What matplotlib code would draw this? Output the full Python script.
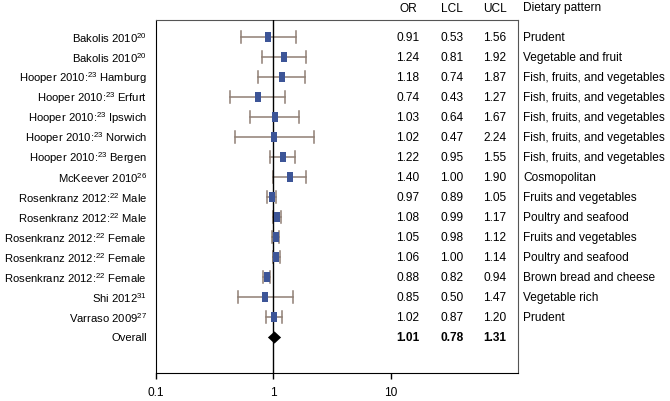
import matplotlib
matplotlib.use('Agg')
from matplotlib import pyplot as plt
from matplotlib.transforms import blended_transform_factory

# dados do forest plot
estudos = ['Bakolis 2010$^{20}$', 'Bakolis 2010$^{20}$',
           'Hooper 2010:$^{23}$ Hamburg', 'Hooper 2010:$^{23}$ Erfurt',
           'Hooper 2010:$^{23}$ Ipswich', 'Hooper 2010:$^{23}$ Norwich',
           'Hooper 2010:$^{23}$ Bergen', 'McKeever 2010$^{26}$',
           'Rosenkranz 2012:$^{22}$ Male', 'Rosenkranz 2012:$^{22}$ Male',
           'Rosenkranz 2012:$^{22}$ Female', 'Rosenkranz 2012:$^{22}$ Female',
           'Rosenkranz 2012:$^{22}$ Female', 'Shi 2012$^{31}$',
           'Varraso 2009$^{27}$', 'Overall']
odds_ratio = [0.91, 1.24, 1.18, 0.74, 1.03, 1.02, 1.22, 1.40,
              0.97, 1.08, 1.05, 1.06, 0.88, 0.85, 1.02, 1.01]
lcl = [0.53, 0.81, 0.74, 0.43, 0.64, 0.47, 0.95, 1.00,
       0.89, 0.99, 0.98, 1.00, 0.82, 0.50, 0.87, 0.78]
ucl = [1.56, 1.92, 1.87, 1.27, 1.67, 2.24, 1.55, 1.90,
       1.05, 1.17, 1.12, 1.14, 0.94, 1.47, 1.20, 1.31]
padrao = ['Prudent', 'Vegetable and fruit', 'Fish, fruits, and vegetables',
          'Fish, fruits, and vegetables', 'Fish, fruits, and vegetables',
          'Fish, fruits, and vegetables', 'Fish, fruits, and vegetables',
          'Cosmopolitan', 'Fruits and vegetables', 'Poultry and seafood',
          'Fruits and vegetables', 'Poultry and seafood',
          'Brown bread and cheese', 'Vegetable rich', 'Prudent', '']
cabecalho = ['OR', 'LCL', 'UCL', 'Dietary pattern']
x_ticks = [0.1, 1, 10]

plt.rcParams['font.family'] = ['Liberation Sans', 'DejaVu Sans']
plt.rcParams['mathtext.fontset'] = 'custom'
plt.rcParams['mathtext.rm'] = 'Liberation Sans'
plt.rcParams['mathtext.it'] = 'Liberation Sans:italic'
plt.rcParams['mathtext.bf'] = 'Liberation Sans:bold'

fig = plt.figure(figsize=(6.7, 4.02), dpi=100)
W, H = 670.0, 402.0
ax = fig.add_axes([155.5 / W, 1 - 373.5 / H, (518 - 155.5) / W, (373.5 - 21) / H])

n = len(estudos)
ys = list(range(n))
cor_barra = '#8f7e74'
cor_quadrado = '#3d5597'

# marcador retangular (mais alto que largo) e losango
retangulo = [(-2, -3), (2, -3), (2, 3), (-2, 3), (-2, -3)]
losango = [(-6.5, 0), (0, 6), (6.5, 0), (0, -6), (-6.5, 0)]

for i in ys[:-1]:
    ax.plot([lcl[i], ucl[i]], [i, i], color=cor_barra, lw=1.1, zorder=2)
    ax.plot([lcl[i], lcl[i]], [i - 0.3, i + 0.3], color=cor_barra, lw=1.1, zorder=2)
    ax.plot([ucl[i], ucl[i]], [i - 0.3, i + 0.3], color=cor_barra, lw=1.1, zorder=2)
    ax.plot(odds_ratio[i], i, marker=retangulo, markersize=6.6, color=cor_quadrado,
            markeredgewidth=0, zorder=4)
# overall
ax.plot(odds_ratio[-1], ys[-1], marker=losango, markersize=9.5, color='black',
        markeredgewidth=0, zorder=4)

ax.axvline(1, color='black', lw=1, zorder=3)

ax.set_xscale('log')
ax.set_xlim(0.1, 10 ** 2.083)
ax.set_ylim(n - 1 + 1.75, -0.85)
ax.set_xticks(x_ticks)
ax.set_xticklabels(['0.1', '1', '10'], fontsize=8.6)
ax.minorticks_off()
ax.set_yticks([])
ax.tick_params(axis='x', direction='out', length=4, width=1, pad=6)
for lado in ['top', 'right']:
    ax.spines[lado].set_color('#555555')
for lado in ['left', 'bottom']:
    ax.spines[lado].set_color('black')

# textos: estudos, tabela e padrão alimentar
trans = blended_transform_factory(fig.transFigure, ax.transData)
col_x = [408 / W, 452 / W, 495 / W]
for i in ys:
    ax.text(147 / W, i, estudos[i], transform=trans, ha='right', va='center', fontsize=8.1)
    peso = 'bold' if i == n - 1 else 'normal'
    for cx, v in zip(col_x, [odds_ratio[i], lcl[i], ucl[i]]):
        ax.text(cx, i, '%.2f' % v, transform=trans, ha='center', va='center',
                fontsize=8.6, fontweight=peso)
    ax.text(523 / W, i, padrao[i], transform=trans, ha='left', va='center', fontsize=8.6)

# cabeçalho
for cx, t in zip(col_x, cabecalho[:3]):
    fig.text(cx, 1 - 8.5 / H, t, ha='center', va='center', fontsize=8.6)
fig.text(523 / W, 1 - 8.5 / H, cabecalho[3], ha='left', va='center', fontsize=8.6)

fig.savefig('out.png', dpi=100)
